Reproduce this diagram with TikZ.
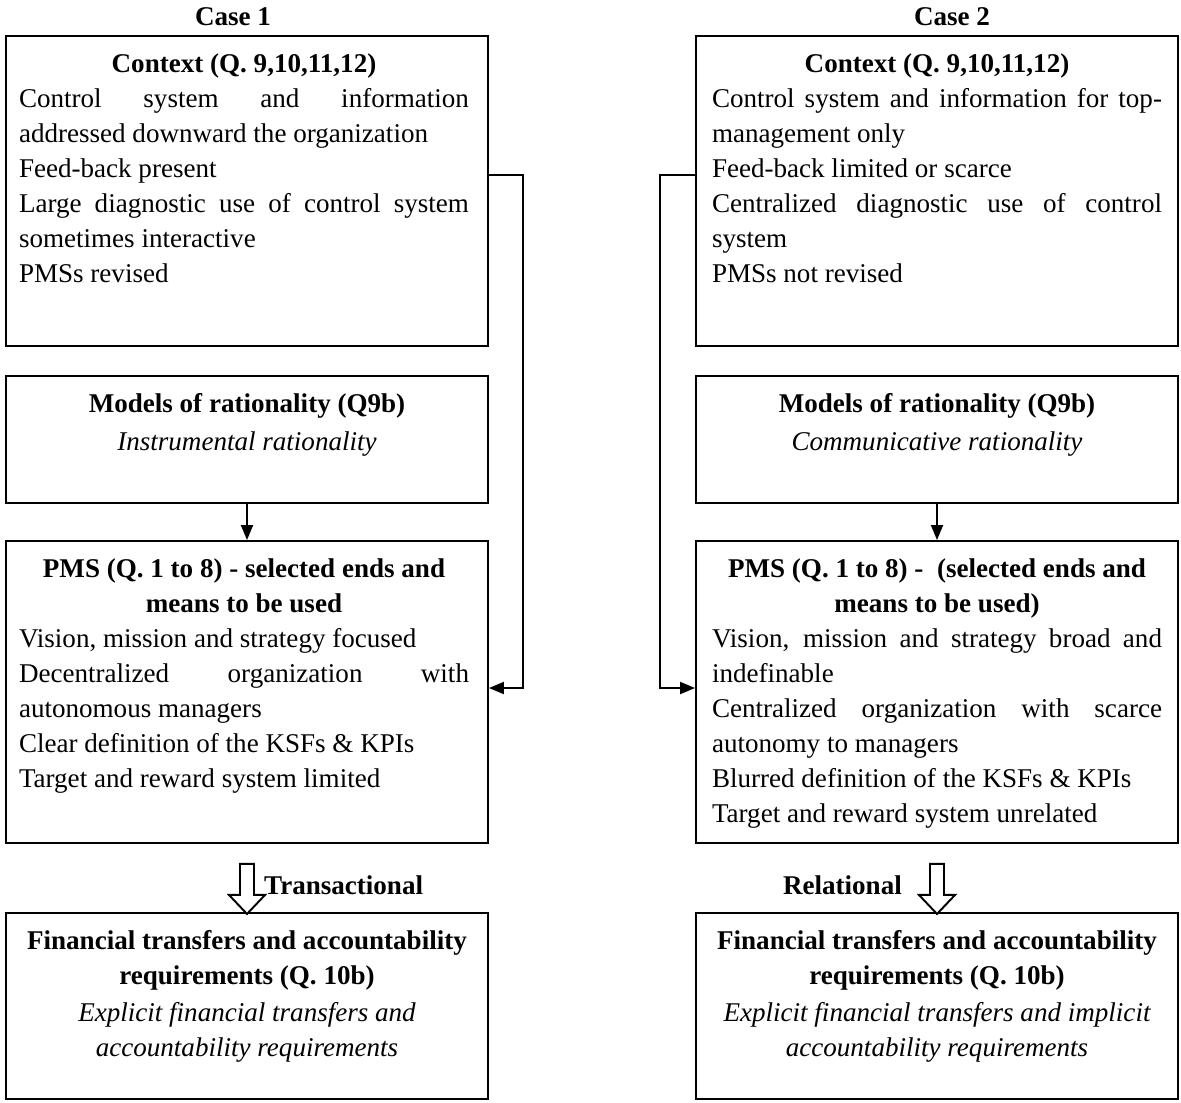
\documentclass[tikz,border=0pt]{standalone}
\usepackage{fontspec}
\setmainfont{Liberation Serif}
\usetikzlibrary{arrows.meta,positioning,calc}
\newcommand{\boxhead}[1]{{\centering\bfseries #1\par}}
\newcommand{\boxital}[1]{{\centering\itshape #1\par}}
\tikzset{
  >={Triangle[length=3mm,width=2.4mm]},
  frame/.style={draw,line width=1.1pt,minimum width=9.64cm,minimum height=#1,
    inner sep=0pt,anchor=north},
  body/.style={text width=9cm,inner sep=0pt,align=justify,
    font=\fontsize{15.4}{19.9}\selectfont},
  tag/.style={font=\fontsize{15.4}{19.9}\selectfont\bfseries},
  link/.style={->,line width=1.1pt},
  % hollow block arrow between the last two boxes
  pics/blockarrow/.style={code={
    \draw[line width=1.1pt,fill=white] (-0.14,0) -- (-0.14,-0.62) -- (-0.36,-0.62)
      -- (0,-1.0) -- (0.36,-0.62) -- (0.14,-0.62) -- (0.14,0) -- cycle;
  }},
}

\begin{document}
\begin{tikzpicture}
  \useasboundingbox (0,0) rectangle (23.62,-22.04);
  % the four boxes of each case
  \foreach \c/\x in {L/4.94,R/18.74}
  {
    \node[frame=6.2cm] (ctx\c) at (\x,-0.70) {};
    \node[frame=2.54cm] (mod\c) at (\x,-7.50) {};
    \node[frame=6.04cm] (pms\c) at (\x,-10.80) {};
    \node[frame=3.72cm] (fin\c) at (\x,-18.24) {};
  }
  \node[tag] (case1) at (4.66,-0.34) {Case 1};
  \node[tag] (case2) at (19.04,-0.34) {Case 2};

  % Case 1
  \node[body,below=0.37cm of ctxL.north,xshift=-0.06cm] (ctxLt) {%
    \boxhead{Context (Q. 9,10,11,12)}
    Control system and information\linebreak addressed downward the organization\par
    Feed-back present\par
    Large diagnostic use of control system\linebreak sometimes interactive\par
    PMSs revised};
  \node[body,below=0.37cm of modL.north] (modLt) {%
    \boxhead{Models of rationality (Q9b)}\vspace{0.05cm}
    \boxital{Instrumental rationality}};
  \node[body,below=0.37cm of pmsL.north,xshift=-0.06cm] (pmsLt) {%
    \boxhead{PMS (Q. 1 to 8) - selected ends and\\means to be used}
    Vision, mission and strategy focused\par
    Decentralized organization with\linebreak autonomous managers\par
    Clear definition of the KSFs \& KPIs\par
    Target and reward system limited};
  \node[body,below=0.37cm of finL.north] (finLt) {%
    \boxhead{Financial transfers and accountability\\requirements (Q. 10b)}\vspace{0.04cm}
    \boxital{Explicit financial transfers and\\accountability requirements}};

  % Case 2
  \node[body,below=0.37cm of ctxR.north] (ctxRt) {%
    \boxhead{Context (Q. 9,10,11,12)}
    Control system and information for top-\linebreak management only\par
    Feed-back limited or scarce\par
    Centralized diagnostic use of control\linebreak system\par
    PMSs not revised};
  \node[body,below=0.37cm of modR.north] (modRt) {%
    \boxhead{Models of rationality (Q9b)}\vspace{0.05cm}
    \boxital{Communicative rationality}};
  \node[body,below=0.37cm of pmsR.north] (pmsRt) {%
    \boxhead{PMS (Q. 1 to 8) - \ (selected ends and\\means to be used)}
    Vision, mission and strategy broad and\linebreak indefinable\par
    Centralized organization with scarce\linebreak autonomy to managers\par
    Blurred definition of the KSFs \& KPIs\par
    Target and reward system unrelated};
  \node[body,below=0.37cm of finR.north] (finRt) {%
    \boxhead{Financial transfers and accountability\\requirements (Q. 10b)}\vspace{0.04cm}
    \boxital{Explicit financial transfers and implicit\\accountability requirements}};

  % connectors
  \coordinate (busL) at (10.46,-3.5);
  \coordinate (busLb) at (10.46,-13.76);
  \coordinate (busR) at (13.2,-3.5);
  \coordinate (busRb) at (13.2,-13.76);
  \draw[link] (ctxL.east |- busL) -- (busL) -- (busLb) -- (pmsL.east |- busLb);
  \draw[link] (ctxR.west |- busR) -- (busR) -- (busRb) -- (pmsR.west |- busRb);
  \draw[link] (modL) -- (pmsL);
  \draw[link] (modR) -- (pmsR);

  \coordinate (arrL) at ($(pmsL.south)+(0,-0.4)$);
  \coordinate (arrR) at ($(pmsR.south)+(0,-0.4)$);
  \pic at (arrL) {blockarrow};
  \pic at (arrR) {blockarrow};
  \node[tag,anchor=west] (trans) at ($(arrL)+(0.22,-0.42)$) {Transactional};
  \node[tag,anchor=east] (relat) at ($(arrR)+(-0.58,-0.42)$) {Relational};
\end{tikzpicture}
\end{document}
